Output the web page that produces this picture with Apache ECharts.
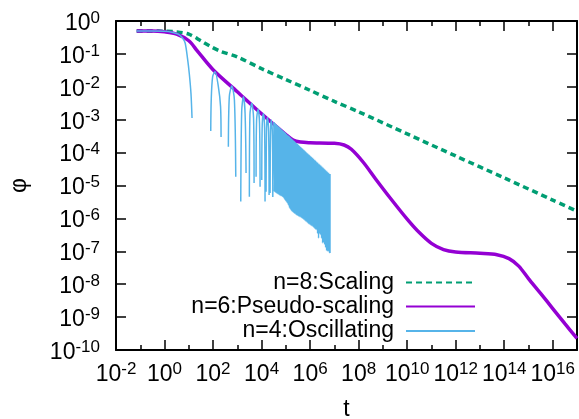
<!DOCTYPE html>
<html><head><meta charset="utf-8">
<script src="https://cdn.jsdelivr.net/npm/echarts@6/dist/echarts.min.js"></script>
<style>html,body{margin:0;padding:0;background:#fff}#c{width:579px;height:419px}</style>
</head><body><div id="c"></div>
<script>
// ---------- data ----------
const seriesNames = ['n=8:Scaling', 'n=6:Pseudo-scaling', 'n=4:Oscillating'];

const greenT = [7.1e-2, 0.316, 1, 3.16, 10, 31.6, 75, 200, 1e3, 1e4, 1e5, 1e6, 1e7, 1e8, 1e10, 1e12, 1e14, 1e16, 1e17];
const greenP = [0.50, 0.50, 0.49, 0.468, 0.398, 0.251, 0.172, 0.12, 0.081, 0.0355, 0.0166, 7.8e-3, 3.6e-3, 1.74e-3, 3.7e-4, 7.9e-5, 1.7e-5, 3.6e-6, 1.66e-6];

const purpleT = [7.1e-2, 0.316, 1, 3.16, 10, 21.9, 100, 1e3, 1e4, 1e5, 2e5, 3.98e5, 1e6, 1e7, 2.51e7, 5.01e7, 1.58e8, 5.01e8, 2e9, 1e10, 3.16e10, 1e11, 3.16e11, 1e12, 1e13, 5.01e13, 1.58e14, 3.98e14, 1e15, 3.16e15, 1e16, 3.16e16, 1e17];
const purpleP = [0.50, 0.50, 0.468, 0.398, 0.251, 0.126, 0.0331, 7.08e-3, 1.51e-3, 3.55e-4, 2.4e-4, 2.09e-4, 2.0e-4, 1.91e-4, 1.7e-4, 1.26e-4, 5.0e-5, 1.58e-5, 4.17e-6, 9.5e-7, 3.7e-7, 1.74e-7, 1.12e-7, 9.5e-8, 8.7e-8, 7.9e-8, 6.0e-8, 3.55e-8, 1.48e-8, 5.25e-9, 1.82e-9, 6.3e-10, 2.24e-10];

// oscillating n=4: initial decay, then the positive lobes, then the dense band
const blueHeadT = [7.1e-2, 0.316, 1, 2.0, 3.63, 5.62, 7.08, 8.91, 10.5, 12.3, 13.6];
const blueHeadP = [0.50, 0.50, 0.49, 0.457, 0.398, 0.30, 0.214, 0.0708, 0.025, 6.3e-3, 1.12e-3];
const blueLobeT = [
  [80.4, 84.1, 96.2, 121, 166, 204, 214],
  [428, 468, 590, 759, 863],
  [1387, 1514, 1774, 2089, 2291],
  [3141, 3311, 3945, 4677, 4909],
  [5929, 6237, 7178, 8222, 8670],
  [1.02e4, 1.064e4, 1.19e4, 1.33e4, 1.39e4],
  [1.53e4, 1.6e4, 1.73e4, 1.95e4, 2.04e4],
  [2.24e4, 2.33e4, 2.51e4, 2.79e4, 2.9e4]
];
const blueLobeP = [
  [4.57e-4, 3.98e-3, 0.0204, 0.0288, 0.01, 2.5e-3, 3.0e-4],
  [1.51e-4, 5.0e-3, 0.0105, 3.98e-3, 1.86e-5],
  [3.24e-6, 1.78e-3, 5.0e-3, 1.58e-3, 2.4e-5],
  [4.57e-6, 1.41e-3, 3.16e-3, 1.12e-3, 1.2e-5],
  [1.86e-5, 1.0e-3, 2.09e-3, 7.9e-4, 9.1e-6],
  [1.48e-5, 7.1e-4, 1.55e-3, 5.6e-4, 3.24e-6],
  [6.5e-6, 5.4e-4, 1.17e-3, 4.3e-4, 5.1e-6],
  [5.9e-6, 4.5e-4, 9.8e-4, 3.5e-4, 4.5e-6]
];
const denseTopT = [3.2e4, 3.52e4, 3.87e4, 4.26e4, 4.69e4, 5.15e4, 5.67e4, 6.24e4, 6.86e4, 7.55e4, 8.3e4, 9.13e4, 1.0e5, 1.1e5, 1.22e5, 1.34e5, 1.47e5, 1.62e5, 1.78e5, 1.96e5, 2.15e5, 2.37e5, 2.61e5, 2.87e5, 3.15e5, 3.47e5, 3.82e5, 4.2e5, 4.62e5, 5.08e5, 5.59e5, 6.15e5, 6.76e5, 7.44e5, 8.18e5, 9.0e5, 9.9e5, 1.09e6, 1.2e6, 1.32e6, 1.45e6, 1.6e6, 1.75e6, 1.93e6, 2.12e6, 2.34e6, 2.57e6, 2.83e6, 3.11e6, 3.42e6, 3.76e6, 4.14e6, 4.55e6, 5.0e6, 5.5e6, 6.05e6, 6.6e6];
const denseTopP = [8.45e-4, 7.9e-4, 7.45e-4, 6.9e-4, 6.5e-4, 6.1e-4, 5.75e-4, 5.3e-4, 5.0e-4, 4.7e-4, 4.4e-4, 4.15e-4, 3.85e-4, 3.6e-4, 3.4e-4, 3.2e-4, 2.98e-4, 2.8e-4, 2.6e-4, 2.45e-4, 2.3e-4, 2.16e-4, 2.0e-4, 1.9e-4, 1.77e-4, 1.66e-4, 1.55e-4, 1.46e-4, 1.36e-4, 1.28e-4, 1.2e-4, 1.12e-4, 1.05e-4, 9.8e-5, 9.2e-5, 8.7e-5, 8.1e-5, 7.6e-5, 7.1e-5, 6.7e-5, 6.25e-5, 5.85e-5, 5.5e-5, 5.1e-5, 4.8e-5, 4.5e-5, 4.2e-5, 3.95e-5, 3.7e-5, 3.5e-5, 3.25e-5, 3.05e-5, 2.85e-5, 2.7e-5, 2.5e-5, 2.35e-5, 2.25e-5];
const denseBotT = [3.36e4, 3.7e4, 4.06e4, 4.47e4, 4.92e4, 5.41e4, 5.95e4, 6.55e4, 7.2e4, 7.93e4, 8.72e4, 9.59e4, 1.05e5, 1.16e5, 1.28e5, 1.41e5, 1.54e5, 1.7e5, 1.87e5, 2.06e5, 2.26e5, 2.49e5, 2.74e5, 3.01e5, 3.31e5, 3.64e5, 4.01e5, 4.41e5, 4.85e5, 5.33e5, 5.87e5, 6.46e5, 7.1e5, 7.81e5, 8.59e5, 9.45e5, 1.04e6, 1.14e6, 1.26e6, 1.39e6, 1.52e6, 1.68e6, 1.84e6, 2.03e6, 2.23e6, 2.46e6, 2.7e6, 2.97e6, 3.27e6, 3.59e6, 3.95e6, 4.35e6, 4.78e6, 5.25e6, 5.78e6, 6.35e6, 6.6e6];
const denseBotP = [6.5e-6, 6.2e-6, 5.9e-6, 5.6e-6, 5.4e-6, 5.1e-6, 4.9e-6, 4.8e-6, 4.6e-6, 4.3e-6, 3.9e-6, 3.5e-6, 3.2e-6, 2.9e-6, 2.5e-6, 2.1e-6, 1.9e-6, 1.7e-6, 1.6e-6, 1.5e-6, 1.4e-6, 1.35e-6, 1.26e-6, 1.23e-6, 1.17e-6, 1.12e-6, 1.1e-6, 1.05e-6, 1.0e-6, 9.5e-7, 8.9e-7, 8.3e-7, 7.9e-7, 7.4e-7, 6.9e-7, 6.6e-7, 6.3e-7, 6.0e-7, 5.75e-7, 5.4e-7, 5.0e-7, 4.7e-7, 4.5e-7, 3.5e-7, 2.5e-7, 3.5e-7, 3.2e-7, 2.5e-7, 1.8e-7, 1.9e-7, 1.6e-7, 1.3e-7, 1.05e-7, 1.0e-7, 1.0e-7, 9.1e-8, 8.9e-8];

// ---------- build series data ----------
const GAP = ['-', '-'];
const green = greenT.map((t, i) => [t, greenP[i]]);
const purple = purpleT.map((t, i) => [t, purpleP[i]]);
const blue = blueHeadT.map((t, i) => [t, blueHeadP[i]]);
blue.push(GAP);
blueLobeT.forEach((ts, k) => { ts.forEach((t, i) => blue.push([t, blueLobeP[k][i]])); blue.push(GAP); });
denseTopT.forEach((t, i) => { blue.push([t, denseTopP[i]]); blue.push([denseBotT[i], denseBotP[i]]); });

// ---------- styling ----------
const FONT = '"Liberation Sans", Helvetica, Arial, sans-serif';
const rich = {
  b: { fontSize: 23, lineHeight: 23, fontFamily: FONT, color: '#000', padding: [5, 0, 0, 0] },
  s: { fontSize: 17, lineHeight: 17, fontFamily: FONT, color: '#000', verticalAlign: 'top' }
};
function expLabel(v) { return '{b|10}{s|' + Math.round(Math.log10(v)) + '}'; }
function xLabel(v) { const e = Math.round(Math.log10(v)); return (e % 2 === 0 && e <= 16) ? expLabel(v) : ''; }

const axisLine = { show: true, onZero: false, lineStyle: { color: '#000', width: 2 } };
const tick = (len) => ({ show: true, inside: true, length: len, lineStyle: { color: '#000', width: 1.5 } });
const noSplit = { show: false };
const grid = { left: 116, top: 21, right: 2, bottom: 69, outerBoundsMode: 'none' };

const option = {
  animation: false,
  backgroundColor: '#fff',
  grid: [Object.assign({}, grid), Object.assign({}, grid)],
  xAxis: [
    { gridIndex: 0, type: 'log', logBase: 10, position: 'bottom', min: 0.01, max: 1e17, interval: 1,
      axisLine, axisTick: tick(5), axisLabel: { show: false }, splitLine: noSplit },
    { gridIndex: 0, type: 'log', logBase: 10, position: 'top', min: 0.01, max: 1e17, interval: 1,
      axisLine, axisTick: tick(5), axisLabel: { show: false }, splitLine: noSplit },
    { gridIndex: 1, type: 'log', logBase: 100, position: 'bottom', min: 0.01, max: 1e17, interval: 1,
      axisLine: { show: false }, axisTick: tick(10), splitLine: noSplit,
      axisLabel: { formatter: xLabel, rich, margin: 11, showMinLabel: true, showMaxLabel: true },
      name: 't', nameLocation: 'middle', nameGap: 48,
      nameTextStyle: { fontSize: 23, fontFamily: FONT, color: '#000' } },
    { gridIndex: 1, type: 'log', logBase: 100, position: 'top', min: 0.01, max: 1e17, interval: 1,
      axisLine: { show: false }, axisTick: tick(10), axisLabel: { show: false }, splitLine: noSplit }
  ],
  yAxis: [
    { gridIndex: 0, type: 'log', logBase: 10, position: 'left', min: 1e-10, max: 1, interval: 1,
      axisLine, axisTick: tick(10), splitLine: noSplit,
      axisLabel: { formatter: expLabel, rich, margin: 16, showMinLabel: true, showMaxLabel: true },
      name: 'φ', nameLocation: 'middle', nameRotate: 90, nameGap: 85,
      nameTextStyle: { fontSize: 23, fontFamily: FONT, color: '#000' } },
    { gridIndex: 0, type: 'log', logBase: 10, position: 'right', min: 1e-10, max: 1, interval: 1,
      axisLine, axisTick: tick(10), axisLabel: { show: false }, splitLine: noSplit },
    { gridIndex: 1, type: 'log', min: 1e-10, max: 1, show: false }
  ],
  legend: seriesNames.map((n, i) => ({
    data: [n], right: 103, top: [271, 295, 319.5][i], padding: 0, align: 'right',
    itemWidth: 69, itemHeight: 1, selectedMode: false,
    textStyle: { fontSize: 23, fontFamily: FONT, color: '#000', padding: [0, 7, 0, 0] }
  })),
  series: [
    { name: seriesNames[0], type: 'line', xAxisIndex: 0, yAxisIndex: 0, data: green, symbol: 'none',
      smooth: 0.3, lineStyle: { color: '#009e73', width: 3.5, type: [6, 4] }, itemStyle: { color: '#009e73' } },
    { name: seriesNames[1], type: 'line', xAxisIndex: 0, yAxisIndex: 0, data: purple, symbol: 'none',
      smooth: 0.3, lineStyle: { color: '#9400d3', width: 3.5 }, itemStyle: { color: '#9400d3' } },
    { name: seriesNames[2], type: 'line', xAxisIndex: 0, yAxisIndex: 0, data: blue, symbol: 'none',
      smooth: 0.3, connectNulls: false, lineStyle: { color: '#56b4e9', width: 1.5 }, itemStyle: { color: '#56b4e9' } }
  ]
};

const chart = echarts.init(document.getElementById('c'), null, { renderer: 'canvas' });
chart.setOption(option);
</script>
</body></html>
